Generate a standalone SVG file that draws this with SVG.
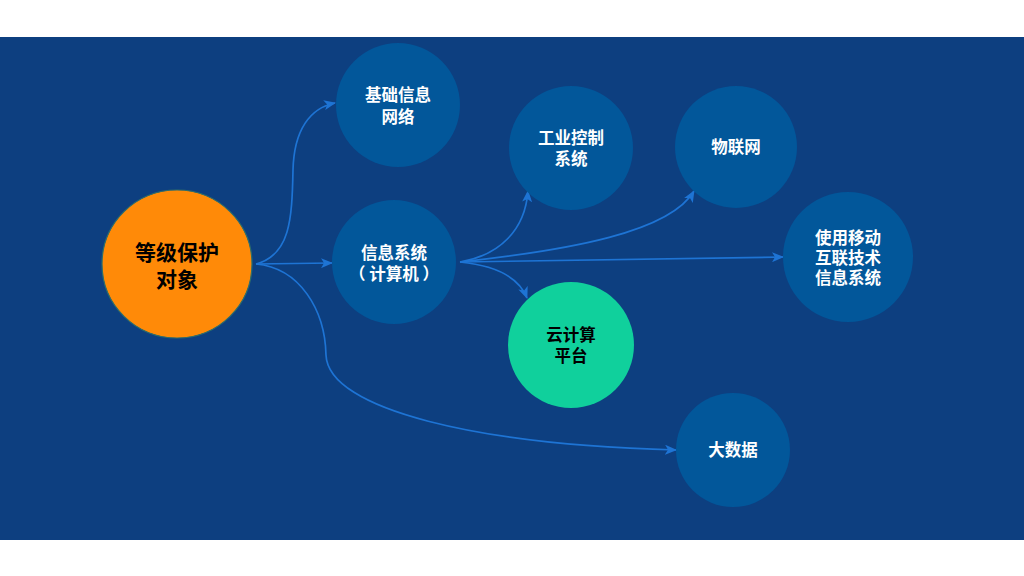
<svg xmlns="http://www.w3.org/2000/svg" width="1024" height="576" viewBox="0 0 1024 576">
<style>
.n{fill:#02579A}
.t{font-family:"Noto Sans CJK SC","Noto Sans",sans-serif;font-weight:bold;font-size:16.5px;fill:#fff;text-anchor:middle}
.k{fill:#000}
.c{fill:none;stroke:#1E74D4;stroke-width:1.7}
</style>
<defs>
<marker id="a" viewBox="0 0 12 10" refX="11" refY="5" markerWidth="12" markerHeight="10" markerUnits="userSpaceOnUse" orient="auto">
<path d="M0,0 L12,5 L0,10 L3,5 Z" fill="#1E74D4"/>
</marker>
</defs>
<rect x="0" y="0" width="1024" height="576" fill="#fff"/>
<rect x="0" y="37" width="1024" height="503" fill="#0D3F80"/>
<g id="connectors">
<path class="c" marker-end="url(#a)" d="M256,264 C290,255 292,220 293,170 C294,130 310,108 335,103"/>
<path class="c" marker-end="url(#a)" d="M256,264 L332,263"/>
<path class="c" marker-end="url(#a)" d="M256,264 C300,268 325,310 326,355 C328,410 480,445 676,450"/>
<path class="c" marker-end="url(#a)" d="M460,262 C500,255 525,230 528,191"/>
<path class="c" marker-end="url(#a)" d="M460,262 C570,250 670,232 694,191"/>
<path class="c" marker-end="url(#a)" d="M460,262 L783,257"/>
<path class="c" marker-end="url(#a)" d="M460,262 C500,266 520,280 527,298"/>
</g>
<g id="n-root">
<ellipse cx="177" cy="264" rx="75" ry="74" fill="#FF8A08" stroke="#2E6E6A" stroke-width="1.2"/>
<text class="t k" style="font-size:21px" x="177" y="260">等级保护</text>
<text class="t k" style="font-size:21px" x="177" y="287">对象</text>
</g>
<g id="n-base">
<circle class="n" cx="398" cy="105" r="62"/>
<text class="t" x="398" y="101">基础信息</text>
<text class="t" x="398" y="123">网络</text>
</g>
<g id="n-info">
<circle class="n" cx="394" cy="262" r="62"/>
<text class="t" x="394" y="259">信息系统</text>
<text class="t" x="394" y="280">（ 计算机 ）</text>
</g>
<g id="n-ics">
<circle class="n" cx="571" cy="148" r="62"/>
<text class="t" x="571" y="144">工业控制</text>
<text class="t" x="571" y="165">系统</text>
</g>
<g id="n-iot">
<circle class="n" cx="736" cy="147" r="61"/>
<text class="t" x="736" y="153">物联网</text>
</g>
<g id="n-mobile">
<circle class="n" cx="848" cy="257" r="65"/>
<text class="t" x="848" y="244">使用移动</text>
<text class="t" x="848" y="264">互联技术</text>
<text class="t" x="848" y="284">信息系统</text>
</g>
<g id="n-cloud">
<circle cx="571" cy="345" r="63" fill="#10D09C"/>
<text class="t k" x="571" y="341">云计算</text>
<text class="t k" x="571" y="362">平台</text>
</g>
<g id="n-bigdata">
<circle class="n" cx="733" cy="450" r="57"/>
<text class="t" x="733" y="456">大数据</text>
</g>
</svg>
